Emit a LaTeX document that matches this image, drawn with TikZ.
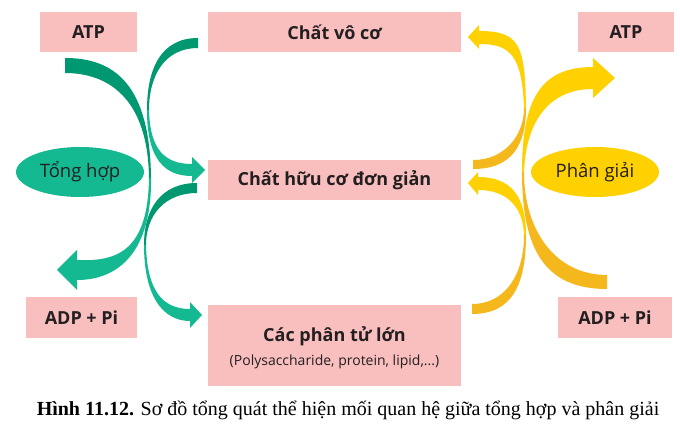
\documentclass[tikz,border=0pt]{standalone}
\usepackage{fontspec}
\setmainfont{Liberation Serif}
\newfontfamily\labelfont{Open Sans}
\usetikzlibrary{shapes.geometric}
\definecolor{boxpink}{HTML}{F9BEBE}
\definecolor{txt}{HTML}{231F20}
\definecolor{grnD}{HTML}{009870}
\definecolor{grnL}{HTML}{14B891}
\definecolor{ylw}{HTML}{FFD100}
\definecolor{gld}{HTML}{F4B81C}
\begin{document}
\begin{tikzpicture}[x=1pt,y=-1pt,
  box/.style={fill=boxpink, inner sep=0pt, text=txt,
    font=\labelfont\bfseries\fontsize{18}{21}\selectfont},
  oval/.style={ellipse, minimum width=128pt, minimum height=50pt, inner sep=0pt,
    text=txt, font=\labelfont\fontsize{18.5}{21}\selectfont},
  ribbon/.style={line join=round}]
\path[use as bounding box] (0,0) rectangle (680,430);

% ---- green ribbons (Tong hop) ----
% ATP -> ADP + Pi
\fill[grnD, ribbon] (65,58) .. controls (115,58) and (150,85) .. (151,178)
  -- (149,178) .. controls (148,98) and (108,73) .. (65,73) -- cycle;
\fill[grnL, ribbon] (151,178) .. controls (152,250) and (120,280) .. (77,280)
  -- (77,290) -- (57,270) -- (77,250) -- (77,260)
  .. controls (118,262) and (148,250) .. (149,178) -- cycle;
% Chat vo co -> Chat huu co don gian
\fill[grnD, ribbon] (198,38) .. controls (160,38) and (147,70) .. (147,110)
  -- (149,110) .. controls (149,75) and (165,48) .. (198,48) -- cycle;
\fill[grnL, ribbon] (147,110) .. controls (147,160) and (165,176) .. (192,176)
  -- (192,183) -- (205,170) -- (192,157) -- (192,164)
  .. controls (165,164) and (150,150) .. (149,110) -- cycle;
% Chat huu co don gian -> Cac phan tu lon
\fill[grnD, ribbon] (197,183) .. controls (160,183) and (144,210) .. (144,245)
  -- (146,245) .. controls (146,215) and (165,193) .. (197,193) -- cycle;
\fill[grnL, ribbon] (144,245) .. controls (144,295) and (162,321) .. (190,321)
  -- (190,328) -- (202,315) -- (190,302) -- (190,309)
  .. controls (162,309) and (147,290) .. (146,245) -- cycle;

% ---- yellow ribbons (Phan giai) ----
% ADP + Pi -> ATP
\fill[gld, ribbon] (607,275) .. controls (555,275) and (524,230) .. (524,172)
  -- (522,172) .. controls (522,250) and (545,289) .. (607,289) -- cycle;
\fill[ylw, ribbon] (522,172) .. controls (522,100) and (540,67) .. (593,67)
  -- (593,58) -- (615,78) -- (593,98) -- (593,89)
  .. controls (550,89) and (526,120) .. (524,172) -- cycle;
% Chat huu co don gian -> Chat vo co
\fill[gld, ribbon] (473,160) .. controls (505,160) and (524,135) .. (524,108)
  -- (526,108) .. controls (526,145) and (512,169) .. (473,169) -- cycle;
\fill[ylw, ribbon] (526,108) .. controls (525,45) and (520,31) .. (479,31)
  -- (479,25) -- (468,37) -- (479,49) -- (479,44)
  .. controls (510,44) and (522,55) .. (524,108) -- cycle;
% Cac phan tu lon -> Chat huu co don gian
\fill[gld, ribbon] (472,304) .. controls (505,304) and (524,275) .. (524,235)
  -- (526,235) .. controls (526,285) and (512,314) .. (472,314) -- cycle;
\fill[ylw, ribbon] (526,235) .. controls (526,195) and (510,177) .. (478,177)
  -- (478,172) -- (468,183) -- (478,195) -- (478,190)
  .. controls (505,190) and (523,205) .. (524,235) -- cycle;

% ---- boxes ----
\node[box, minimum width=97pt, minimum height=40pt] (atpL) at (88.5,32) {ATP};
\node[box, minimum width=253pt, minimum height=40pt] (vc) at (334.5,32) {Chất vô cơ};
\node[box, minimum width=253pt, minimum height=40pt] (hc) at (334.5,180) {Chất hữu cơ đơn giản};
\node[box, minimum width=253pt, minimum height=81pt] (pt) at (334.5,345.5) {};
\node[text=txt, font=\labelfont\bfseries\fontsize{18}{21}\selectfont] (ptT) at (334.5,336) {Các phân tử lớn};
\node[text=txt, font=\labelfont\fontsize{14}{16}\selectfont] (ptS) at (334.5,362) {(Polysaccharide, protein, lipid,...)};
\node[box, minimum width=96pt, minimum height=40pt] (atpR) at (626,32) {ATP};
\node[box, minimum width=111pt, minimum height=41pt] (adpL) at (81.5,317.5) {ADP + Pi};
\node[box, minimum width=114pt, minimum height=41pt] (adpR) at (615,317.5) {ADP + Pi};

% ---- ovals ----
\node[oval, fill=grnL] (th) at (80,172) {Tổng hợp};
\node[oval, fill=ylw] (pg) at (595,172) {Phân giải};

% ---- caption ----
\node[text=black, font=\fontsize{20}{24}\selectfont] (cap) at (348,410)
  {\textbf{Hình 11.12.} Sơ đồ tổng quát thể hiện mối quan hệ giữa tổng hợp và phân giải};
\end{tikzpicture}
\end{document}
